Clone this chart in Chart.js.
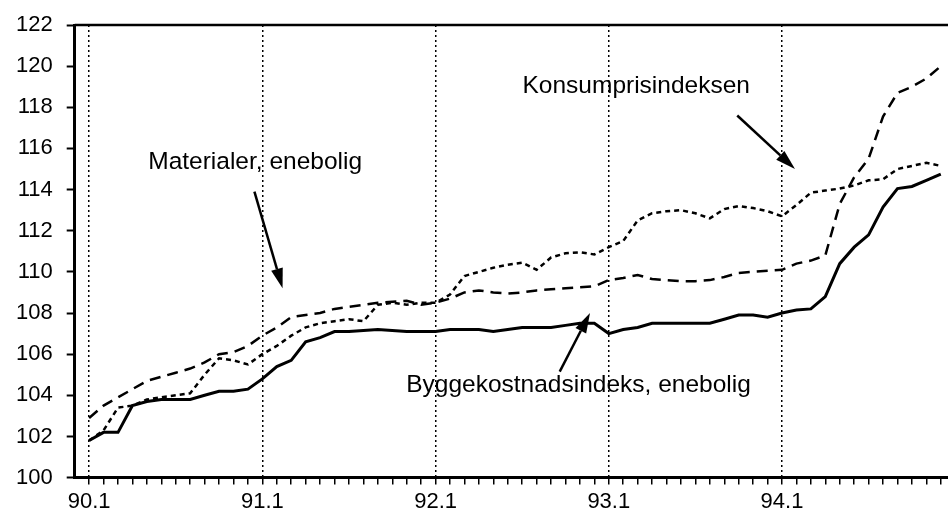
<!DOCTYPE html>
<html>
<head>
<meta charset="utf-8">
<script src="https://cdn.jsdelivr.net/npm/chart.js@4/dist/chart.umd.min.js"></script>
<style>
    html, body { margin: 0; padding: 0; background: #fff; }
    #wrap { width: 948px; height: 520px; }
</style>
</head>
<body>
<div id="wrap"><canvas id="chart"></canvas></div>
<script>
// months 90.1 .. 94.12, one value per month
var years = ['90', '91', '92', '93', '94'];
var yearTicks = ['90.1', '91.1', '92.1', '93.1', '94.1'];

var bygge = [
    101.8, 102.2, 102.2, 103.5, 103.7, 103.8, 103.8, 103.8, 104.0, 104.2, 104.2, 104.3,
    104.8, 105.4, 105.7, 106.6, 106.8, 107.1, 107.1, 107.15, 107.2, 107.15, 107.1, 107.1,
    107.1, 107.2, 107.2, 107.2, 107.1, 107.2, 107.3, 107.3, 107.3, 107.4, 107.5, 107.5,
    107.0, 107.2, 107.3, 107.5, 107.5, 107.5, 107.5, 107.5, 107.7, 107.9, 107.9, 107.8,
    108.0, 108.15, 108.2, 108.8, 110.4, 111.2, 111.8, 113.15, 114.05, 114.15, 114.45, 114.75
];
var materialer = [
    102.9, 103.5, 103.9, 104.3, 104.7, 104.9, 105.1, 105.3, 105.6, 106.0, 106.1, 106.4,
    106.9, 107.3, 107.8, 107.9, 108.0, 108.2, 108.3, 108.4, 108.5, 108.55, 108.6, 108.4,
    108.5, 108.7, 109.0, 109.1, 109.0, 108.95, 109.0, 109.1, 109.15, 109.2, 109.25, 109.3,
    109.6, 109.7, 109.85, 109.65, 109.6, 109.55, 109.55, 109.6, 109.75, 109.95, 110.0, 110.05,
    110.1, 110.4, 110.55, 110.8, 113.3, 114.6, 115.5, 117.55, 118.7, 119.0, 119.4, 120.0
];
var konsum = [
    101.8, 102.3, 103.4, 103.5, 103.8, 103.9, 104.0, 104.1, 105.0, 105.8, 105.7, 105.5,
    106.0, 106.4, 106.9, 107.3, 107.5, 107.6, 107.7, 107.6, 108.4, 108.5, 108.4, 108.5,
    108.5, 108.9, 109.8, 110.0, 110.2, 110.35, 110.45, 110.1, 110.7, 110.9, 110.95, 110.85,
    111.2, 111.5, 112.5, 112.85, 112.95, 113.0, 112.85, 112.6, 113.05, 113.2, 113.1, 112.95,
    112.7, 113.25, 113.85, 113.95, 114.05, 114.2, 114.45, 114.5, 115.0, 115.15, 115.3, 115.15
];

var FONT = "'Liberation Sans', Arial, Helvetica, sans-serif";

function toPoints(values) {
    return values.map(function (v, i) {
        return {x: i, y: v};
    });
}

// labels with arrows, placed in data coordinates
var notes = [
    {text: 'Konsumprisindeksen', x: 37.9, y: 119.0, from: [44.9, 117.6], to: [48.9, 115.0]},
    {text: 'Materialer, enebolig', x: 11.5, y: 115.35, from: [11.45, 113.9], to: [13.4, 109.2]},
    {text: 'Byggekostnadsindeks, enebolig', x: 33.9, y: 104.5, from: [32.6, 105.15], to: [34.7, 108.0]}
];

var extras = {
    id: 'extras',
    afterDatasetsDraw: function (chart) {
        var ctx = chart.ctx, a = chart.chartArea;
        var xs = chart.scales.x, ys = chart.scales.y;
        ctx.save();
        // top frame line
        ctx.strokeStyle = '#000';
        ctx.lineWidth = 2.5;
        ctx.beginPath();
        ctx.moveTo(a.left, a.top);
        ctx.lineTo(a.right, a.top);
        ctx.stroke();

        ctx.fillStyle = '#000';
        ctx.font = '24.5px ' + FONT;
        ctx.textAlign = 'center';
        ctx.textBaseline = 'middle';
        notes.forEach(function (n) {
            ctx.fillText(n.text, xs.getPixelForValue(n.x), ys.getPixelForValue(n.y));
            var x1 = xs.getPixelForValue(n.from[0]), y1 = ys.getPixelForValue(n.from[1]);
            var x2 = xs.getPixelForValue(n.to[0]), y2 = ys.getPixelForValue(n.to[1]);
            var ang = Math.atan2(y2 - y1, x2 - x1);
            var len = 20, half = 6;
            var bx = x2 - len * Math.cos(ang), by = y2 - len * Math.sin(ang);
            ctx.lineWidth = 2.5;
            ctx.beginPath();
            ctx.moveTo(x1, y1);
            ctx.lineTo(bx, by);
            ctx.stroke();
            ctx.beginPath();
            ctx.moveTo(x2, y2);
            ctx.lineTo(bx + half * Math.sin(ang), by - half * Math.cos(ang));
            ctx.lineTo(bx - half * Math.sin(ang), by + half * Math.cos(ang));
            ctx.closePath();
            ctx.fill();
        });
        ctx.restore();
    }
};

new Chart(document.getElementById('chart'), {
    type: 'line',
    data: {
        datasets: [
            {
                label: 'Byggekostnadsindeks, enebolig',
                data: toPoints(bygge),
                borderColor: '#000',
                borderWidth: 3,
                pointRadius: 0,
                fill: false
            },
            {
                label: 'Materialer, enebolig',
                data: toPoints(materialer),
                borderColor: '#000',
                borderWidth: 2.5,
                borderDash: [11, 7],
                pointRadius: 0,
                fill: false
            },
            {
                label: 'Konsumprisindeksen',
                data: toPoints(konsum),
                borderColor: '#000',
                borderWidth: 2.5,
                borderDash: [5, 4],
                pointRadius: 0,
                fill: false
            }
        ]
    },
    options: {
        responsive: true,
        maintainAspectRatio: false,
        animation: false,
        layout: {padding: {left: 2, top: 0, right: 0, bottom: 1}},
        plugins: {
            legend: {display: false},
            tooltip: {enabled: false}
        },
        scales: {
            x: {
                type: 'linear',
                min: -1,
                max: 59.5,
                afterBuildTicks: function (axis) {
                    var t = [];
                    for (var i = 0; i < years.length * 12; i++) t.push({value: i});
                    axis.ticks = t;
                },
                ticks: {
                    autoSkip: false,
                    maxRotation: 0,
                    padding: 4,
                    color: '#000',
                    font: {family: FONT, size: 22},
                    callback: function (v) {
                        return v % 12 === 0 ? yearTicks[v / 12] : '';
                    }
                },
                grid: {
                    color: function (c) {
                        return c.tick && c.tick.value % 12 === 0 ? '#000' : 'rgba(0,0,0,0)';
                    },
                    lineWidth: 1.5,
                    tickColor: '#000',
                    tickWidth: 1.5,
                    tickLength: 7,
                    tickBorderDash: []
                },
                border: {color: '#000', width: 3, dash: [2, 3]}
            },
            y: {
                min: 100,
                max: 122,
                ticks: {
                    stepSize: 2,
                    padding: 14,
                    color: '#000',
                    font: {family: FONT, size: 22, lineHeight: 1}
                },
                grid: {
                    drawOnChartArea: false,
                    tickColor: '#000',
                    tickWidth: 2,
                    tickLength: 8
                },
                border: {color: '#000', width: 3}
            }
        }
    },
    plugins: [extras]
});
</script>
</body>
</html>
